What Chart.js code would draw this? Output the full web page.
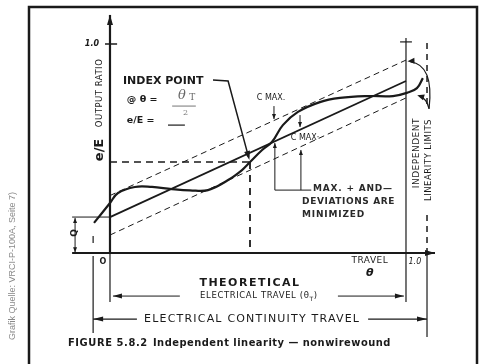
<!DOCTYPE html>
<html>
<head>
<meta charset="utf-8">
<script src="https://cdn.jsdelivr.net/npm/chart.js@4"></script>
<style>
  html, body { margin: 0; padding: 0; background: #fff; }
  canvas { display: block; }
</style>
</head>
<body>
<canvas id="linChart" width="481" height="364"></canvas>
<script>
// output ratio curve of the pot (travel theta, e/E)
const curveX = [-0.054, 0, 0.027, 0.084, 0.142, 0.209, 0.27, 0.331, 0.399, 0.446, 0.473, 0.514, 0.547, 0.584, 0.635, 0.709, 0.777, 0.868, 0.956, 1.003, 1.037, 1.057];
const curveY = [0.144, 0.239, 0.287, 0.316, 0.316, 0.306, 0.30, 0.301, 0.349, 0.397, 0.435, 0.493, 0.531, 0.612, 0.675, 0.722, 0.742, 0.751, 0.751, 0.766, 0.789, 0.837];

// best straight line and the +/- limits
const lineX = [0, 1];
const fitY = [0.172, 0.823];
const upperY = [0.275, 0.923];
const lowerY = [0.086, 0.742];

// index point
const indexTheta = 0.473;
const indexRatio = 0.435;

// tick labels
const yTickLabels = ['1.0'];
const xTickLabels = ['O', '1.0'];

const toPts = (xs, ys) => xs.map((x, i) => ({ x: x, y: ys[i] }));

const ink = '#1a1a1a';

const lineSet = (label, pts, opts) => Object.assign({
  label: label,
  data: pts,
  showLine: true,
  borderColor: ink,
  borderWidth: 1.2,
  pointRadius: 0,
  fill: false,
  clip: false
}, opts || {});

const data = {
  datasets: [
    lineSet('curve', toPts(curveX, curveY), { borderWidth: 2.2, tension: 0.4 }),
    lineSet('fit', toPts(lineX, fitY), { borderWidth: 1.8 }),
    lineSet('upper', toPts(lineX, upperY), { borderWidth: 1, borderDash: [6, 4] }),
    lineSet('lower', toPts(lineX, lowerY), { borderWidth: 1, borderDash: [6, 4] }),
    lineSet('indexH', [{ x: 0, y: indexRatio }, { x: indexTheta, y: indexRatio }], { borderWidth: 1.5, borderDash: [7, 5] }),
    lineSet('indexV', [{ x: indexTheta, y: indexRatio }, { x: indexTheta, y: 0 }], { borderWidth: 1.8, borderDash: [7, 6] })
  ]
};

// draws axes, dimension lines and all the lettering
const drawingPlugin = {
  id: 'drawing',
  afterDatasetsDraw(chart) {
    const ctx = chart.ctx;
    const X = v => chart.scales.x.getPixelForValue(v);
    const Y = v => chart.scales.y.getPixelForValue(v);

    ctx.save();
    ctx.strokeStyle = ink;
    ctx.fillStyle = ink;
    ctx.lineCap = 'butt';

    function line(x1, y1, x2, y2, w, dash) {
      ctx.beginPath();
      ctx.lineWidth = w || 1;
      ctx.setLineDash(dash || []);
      ctx.moveTo(X(x1), Y(y1));
      ctx.lineTo(X(x2), Y(y2));
      ctx.stroke();
      ctx.setLineDash([]);
    }
    function head(x1, y1, x2, y2, len, wid) {
      // arrow head at (x2,y2) coming from (x1,y1)
      const ax = X(x2), ay = Y(y2);
      const ang = Math.atan2(ay - Y(y1), ax - X(x1));
      len = len || 7; wid = wid || 2.5;
      ctx.beginPath();
      ctx.moveTo(ax, ay);
      ctx.lineTo(ax - len * Math.cos(ang) + wid * Math.sin(ang), ay - len * Math.sin(ang) - wid * Math.cos(ang));
      ctx.lineTo(ax - len * Math.cos(ang) - wid * Math.sin(ang), ay - len * Math.sin(ang) + wid * Math.cos(ang));
      ctx.closePath();
      ctx.fill();
    }
    function arrow(x1, y1, x2, y2, w, len, wid) {
      line(x1, y1, x2, y2, w);
      head(x1, y1, x2, y2, len, wid);
    }
    function text(str, x, y, font, align, rot, spacing, color) {
      ctx.save();
      ctx.font = font;
      ctx.fillStyle = color || ink;
      ctx.textAlign = align || 'center';
      ctx.textBaseline = 'middle';
      ctx.letterSpacing = spacing || '0px';
      ctx.translate(X(x), Y(y));
      if (rot) ctx.rotate(rot);
      ctx.fillText(str, 0, 0);
      ctx.restore();
    }

    // frame of the figure
    ctx.lineWidth = 2.5;
    ctx.strokeRect(29, 7, 448, 370);

    // axes
    arrow(0, 0, 0, 1.139, 2.2, 10, 3);
    arrow(-0.128, 0, 1.098, 0, 2, 10, 3);
    line(-0.017, 1, 0.024, 1, 1.5);
    text(yTickLabels[0], -0.061, 1, 'italic bold 8px "DejaVu Sans"');
    text(xTickLabels[0], -0.024, -0.043, 'bold 8px "DejaVu Sans"');
    text(xTickLabels[1], 1.030, -0.043, 'italic 8px "DejaVu Sans"');

    // vertical limits
    line(0, 0, 0, -0.234, 1.2);
    line(-0.057, -0.014, -0.057, -0.383, 1.2);
    line(-0.057, 0.081, -0.057, 0.048, 1.2);
    line(1, 1.029, 1, -0.234, 1.2);
    line(0.98, 1.01, 1.02, 1.01, 1.2);
    line(1.071, 1.005, 1.071, 0.708, 1.5, [6, 5]);
    line(1.071, 0.182, 1.071, 0, 1.5, [6, 5]);
    line(1.071, 0, 1.071, -0.402, 1.2);

    // Q dimension
    line(-0.128, 0.172, 0, 0.172, 1);
    arrow(-0.118, 0.086, -0.118, 0.168, 1, 5, 2);
    arrow(-0.118, 0.086, -0.118, 0.004, 1, 5, 2);
    text('Q', -0.118, 0.096, 'bold 9px "DejaVu Sans"', 'center', -Math.PI / 2);

    // axis titles
    text('e/E', -0.034, 0.493, 'bold 13px "DejaVu Sans"', 'center', -Math.PI / 2);
    text('OUTPUT RATIO', -0.034, 0.766, '8.5px "DejaVu Sans"', 'center', -Math.PI / 2, '0.5px');
    text('TRAVEL', 0.878, -0.038, '9px "DejaVu Sans"', 'center', 0, '0.5px');
    text('θ', 0.878, -0.096, 'italic bold 11px "DejaVu Sans"');

    // index point note
    text('INDEX POINT', 0.044, 0.823, 'bold 11px "DejaVu Sans"', 'left');
    ctx.lineWidth = 1.5;
    ctx.beginPath();
    ctx.moveTo(X(0.348), Y(0.828));
    ctx.lineTo(X(0.399), Y(0.823));
    ctx.lineTo(X(0.468), Y(0.46));
    ctx.stroke();
    head(0.399, 0.823, 0.471, 0.445, 9, 3);
    text('@ θ =', 0.057, 0.732, 'bold 9.5px "DejaVu Sans"', 'left');
    text('θ', 0.243, 0.751, 'italic 13px "DejaVu Serif"', 'center', 0, '0px', '#666');
    text('T', 0.268, 0.745, '9px "DejaVu Serif"', 'left', 0, '0px', '#666');
    line(0.21, 0.703, 0.29, 0.703, 0.6);
    text('2', 0.255, 0.67, '8px "DejaVu Serif"', 'center', 0, '0px', '#777');
    text('e/E =', 0.057, 0.636, 'bold 9.5px "DejaVu Sans"', 'left');
    line(0.196, 0.612, 0.253, 0.612, 1.2);

    // C max marks
    text('C MAX.', 0.544, 0.742, '8px "DejaVu Sans"');
    arrow(0.554, 0.703, 0.554, 0.641, 1, 5, 2);
    arrow(0.642, 0.66, 0.642, 0.603, 1, 5, 2);
    text('C MAX·', 0.659, 0.550, '8px "DejaVu Sans"');
    arrow(0.557, 0.301, 0.557, 0.526, 1, 5, 2);
    arrow(0.645, 0.301, 0.645, 0.493, 1, 5, 2);
    line(0.557, 0.301, 0.68, 0.301, 1);
    text('MAX. + AND—', 0.686, 0.306, 'bold 9px "DejaVu Sans"', 'left', 0, '0.8px', '#2a2a2a');
    text('DEVIATIONS ARE', 0.649, 0.244, 'bold 9px "DejaVu Sans"', 'left', 0, '0.6px', '#2a2a2a');
    text('MINIMIZED', 0.649, 0.182, 'bold 9px "DejaVu Sans"', 'left', 0, '0.8px', '#2a2a2a');

    // independent linearity limits
    text('INDEPENDENT', 1.036, 0.478, '9px "DejaVu Sans"', 'center', -Math.PI / 2, '0.5px');
    text('LINEARITY LIMITS', 1.078, 0.445, '8.5px "DejaVu Sans"', 'center', -Math.PI / 2, '0.5px');
    ctx.lineWidth = 1.2;
    ctx.beginPath();
    ctx.moveTo(X(1.078), Y(0.69));
    ctx.quadraticCurveTo(X(1.095), Y(0.90), X(1.015), Y(0.915));
    ctx.stroke();
    head(1.04, 0.92, 1.005, 0.918, 7, 3);
    ctx.beginPath();
    ctx.moveTo(X(1.078), Y(0.69));
    ctx.quadraticCurveTo(X(1.07), Y(0.74), X(1.045), Y(0.752));
    ctx.stroke();
    head(1.06, 0.745, 1.038, 0.755, 7, 3);

    // theoretical electrical travel
    text('THEORETICAL', 0.473, -0.144, 'bold 11px "DejaVu Sans"', 'center', 0, '1.5px');
    arrow(0.236, -0.206, 0.010, -0.206, 1, 9, 2.5);
    arrow(0.770, -0.206, 0.993, -0.206, 1, 9, 2.5);
    ctx.save();
    ctx.font = '8.5px "DejaVu Sans"';
    ctx.letterSpacing = '0.6px';
    const mainTxt = 'ELECTRICAL TRAVEL (θ';
    const w1 = ctx.measureText(mainTxt).width;
    ctx.font = '6px "DejaVu Sans"';
    const w2 = ctx.measureText('T').width;
    ctx.font = '8.5px "DejaVu Sans"';
    const w3 = ctx.measureText(')').width;
    let sx = X(0.503) - (w1 + w2 + w3) / 2;
    const sy = Y(-0.206);
    ctx.textBaseline = 'middle';
    ctx.fillText(mainTxt, sx, sy);
    ctx.font = '6px "DejaVu Sans"';
    ctx.fillText('T', sx + w1, sy + 3);
    ctx.font = '8.5px "DejaVu Sans"';
    ctx.fillText(')', sx + w1 + w2, sy);
    ctx.restore();

    // electrical continuity travel
    arrow(0.091, -0.316, -0.057, -0.316, 1.2, 10, 2.5);
    arrow(0.872, -0.316, 1.071, -0.316, 1.2, 10, 2.5);
    text('ELECTRICAL CONTINUITY TRAVEL', 0.48, -0.316, '11px "DejaVu Sans"', 'center', 0, '1.2px');

    // caption and source
    text('FIGURE 5.8.2', -0.142, -0.431, 'bold 11px "DejaVu Sans Condensed"', 'left', 0, '0.6px');
    text('Independent linearity — nonwirewound', 0.145, -0.431, 'bold 11px "DejaVu Sans Condensed"', 'left', 0, '0.5px');
    ctx.restore();

    ctx.save();
    ctx.font = '9px "Liberation Sans"';
    ctx.fillStyle = '#8a8a8a';
    ctx.textAlign = 'center';
    ctx.textBaseline = 'middle';
    ctx.translate(13, 266);
    ctx.rotate(-Math.PI / 2);
    ctx.fillText('Grafik Quelle: VRCI-P-100A, Seite 7)', 0, 0);
    ctx.restore();
  }
};

new Chart(document.getElementById('linChart'), {
  type: 'scatter',
  data: data,
  options: {
    responsive: false,
    animation: false,
    layout: { padding: 0 },
    plugins: {
      legend: { display: false },
      tooltip: { enabled: false }
    },
    scales: {
      x: { type: 'linear', min: -0.3716, max: 1.2534, display: false },
      y: { type: 'linear', min: -0.531, max: 1.2105, display: false }
    }
  },
  plugins: [drawingPlugin]
});
</script>
</body>
</html>
